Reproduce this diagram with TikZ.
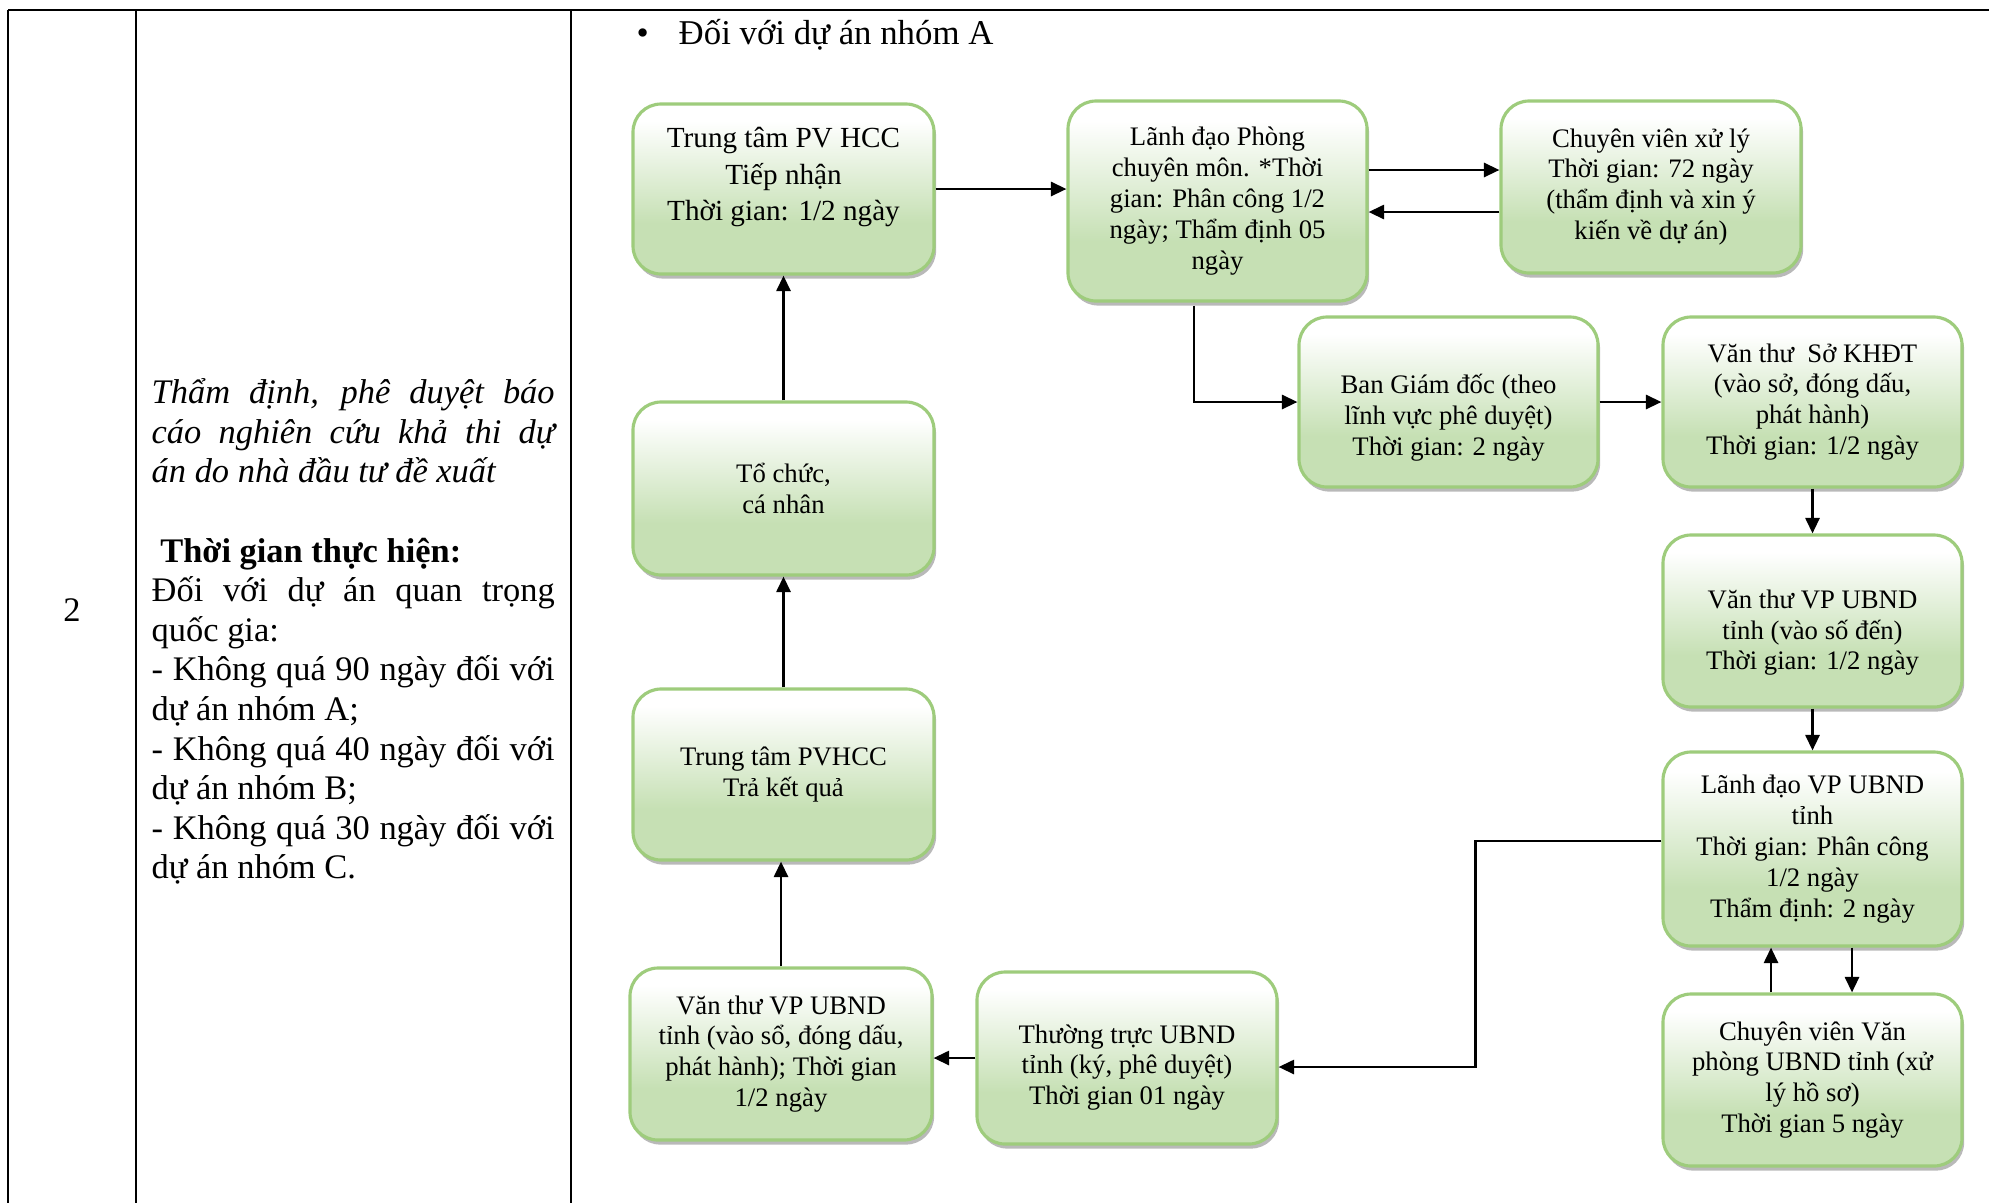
\documentclass[tikz,border=0pt]{standalone}
\usepackage{fontspec}
\setmainfont{Liberation Serif}
\usetikzlibrary{arrows.meta,shadows}
\setlength{\parindent}{0pt}

\definecolor{boxgreen}{RGB}{198,224,180}
\definecolor{boxline}{RGB}{158,204,124}
\pgfdeclareverticalshading{greenfade}{100bp}{color(0bp)=(boxgreen); color(25bp)=(boxgreen);
  color(40bp)=(boxgreen); color(70bp)=(white); color(100bp)=(white)}

\newcommand{\fillline}[1]{\makebox[4.03cm][s]{#1}}

\begin{document}
\begin{tikzpicture}[
  stage/.style={rectangle, rounded corners=0.28cm, draw=boxline, line width=0.9pt,
    shade, shading=greenfade, minimum width=3.0cm, minimum height=1.7cm,
    inner sep=2pt, align=center, font=\fontsize{7.6}{8.8}\selectfont,
    drop shadow={shadow xshift=0.6pt, shadow yshift=-1.3pt, fill=black!50, opacity=0.55}},
  flow/.style={draw, line width=0.72pt, -{Triangle[length=4.4pt, width=4pt]}},
  gridline/.style={draw, line width=0.6pt},
  celltext/.style={inner sep=0pt, text width=4.03cm, align=left,
    font=\fontsize{9.8}{11.27}\selectfont}
]
  \useasboundingbox (0,0) rectangle (19.89,-12.03);

  % Table rules.
  \draw[gridline] (0.08,-0.10) -- (19.89,-0.10);
  \draw[gridline] (0.08,-0.10) -- (0.08,-12.03);
  \draw[gridline] (1.36,-0.10) -- (1.36,-12.03);
  \draw[gridline] (5.71,-0.10) -- (5.71,-12.03);

  % Row number and task.
  \node[font=\fontsize{9.8}{11.27}\selectfont] (rowno) at (0.72,-6.10) {2};
  \node[celltext, anchor=north west] (task) at (1.51,-3.78) {%
    \spaceskip=0pt\xspaceskip=0pt\relax
    \fillline{\itshape Thẩm định, phê duyệt báo}\\
    \fillline{\itshape cáo nghiên cứu khả thi dự}\\
    {\itshape án do nhà đầu tư đề xuất}\\[11.27pt]
    \hspace*{0.25em}\textbf{Thời gian thực hiện:}\\
    \fillline{Đối với dự án quan trọng}\\
    quốc gia:\\
    \fillline{- Không quá 90 ngày đối với}\\
    dự án nhóm A;\\
    \fillline{- Không quá 40 ngày đối với}\\
    dự án nhóm B;\\
    \fillline{- Không quá 30 ngày đối với}\\
    dự án nhóm C.};

  % Heading.
  \node[anchor=west, inner sep=0pt, font=\fontsize{9.9}{11.4}\selectfont] (head)
    at (6.36,-0.35) {\textbullet\hspace{8.5pt}Đối với dự án nhóm A};

  % Top row.
  \node[stage, minimum width=3.01cm, font=\fontsize{8.3}{10.4}\selectfont] (recv)
    at (7.835,-1.89) {Trung tâm PV HCC\\Tiếp nhận\\Thời gian: 1/2 ngày\\[-2pt]\mbox{}};
  \node[stage, minimum width=2.99cm, minimum height=2.0cm] (lead) at (12.175,-2.01)
    {Lãnh đạo Phòng\\chuyên môn. *Thời\\gian: Phân công 1/2\\ngày; Thẩm định 05\\ngày};
  \node[stage, minimum height=1.72cm] (expert) at (16.51,-1.87)
    {Chuyên viên xử lý\\Thời gian: 72 ngày\\(thẩm định và xin ý\\kiến về dự án)};

  % Middle rows.
  \node[stage, minimum width=3.01cm, minimum height=1.73cm] (applicant) at (7.835,-4.885)
    {Tổ chức,\\cá nhân};
  \node[stage, minimum width=2.99cm] (board) at (14.485,-4.02)
    {\rule{0pt}{14.3pt}Ban Giám đốc (theo\\lĩnh vực phê duyệt)\\Thời gian: 2 ngày};
  \node[stage, minimum width=2.99cm] (dpiclerk) at (18.125,-4.02)
    {Văn thư\ \ Sở KHĐT\\(vào sở, đóng dấu,\\phát hành)\\Thời gian: 1/2 ngày};
  \node[stage, minimum width=2.99cm, minimum height=1.72cm] (inclerk) at (18.125,-6.21)
    {\rule{0pt}{11.9pt}Văn thư VP UBND\\tỉnh (vào số đến)\\Thời gian: 1/2 ngày};
  \node[stage, minimum width=3.01cm, minimum height=1.71cm] (handback) at (7.835,-7.745)
    {Trung tâm PVHCC\\Trả kết quả};
  \node[stage, minimum width=2.99cm, minimum height=1.94cm] (offlead) at (18.125,-8.49)
    {Lãnh đạo VP UBND\\tỉnh\\Thời gian: Phân công\\1/2 ngày\\ Thẩm định: 2 ngày};

  % Bottom row.
  \node[stage, minimum width=3.02cm, minimum height=1.72cm] (outclerk) at (7.81,-10.54)
    {Văn thư VP UBND\\tỉnh (vào sổ, đóng dấu,\\phát hành); Thời gian\\1/2 ngày};
  \node[stage, minimum height=1.72cm] (standing) at (11.27,-10.58)
    {\rule{0pt}{10.7pt}Thường trực UBND\\tỉnh (ký, phê duyệt)\\Thời gian 01 ngày};
  \node[stage, minimum width=2.99cm, minimum height=1.72cm] (offexpert) at (18.125,-10.80)
    {Chuyên viên Văn\\phòng UBND tỉnh (xử\\lý hồ sơ)\\Thời gian 5 ngày};

  % Connectors.
  \coordinate (toexp) at ([yshift=0.17cm]expert.west);
  \coordinate (fromexp) at ([yshift=-0.25cm]expert.west);
  \draw[flow] (recv.east) -- (recv.east -| lead.west);
  \draw[flow] (toexp -| lead.east) -- (toexp);
  \draw[flow] (fromexp) -- (fromexp -| lead.east);
  \draw[flow] ([xshift=-0.235cm,yshift=-0.03cm]lead.south) |- (board.west);
  \draw[flow] (board.east) -- (dpiclerk.west);
  \draw[flow] (dpiclerk.south) -- (inclerk.north);
  \draw[flow] (inclerk.south) -- (offlead.north);
  \draw[flow] ([xshift=-0.415cm]offexpert.north) -- ([xshift=-0.415cm]offlead.south);
  \draw[flow] ([xshift=0.395cm]offlead.south) -- ([xshift=0.395cm]offexpert.north);
  \draw[flow] ([yshift=0.08cm]offlead.west) -- ++(-1.86,0) |- ([yshift=-0.09cm]standing.east);
  \draw[flow] (standing.west) -- (standing.west -| outclerk.east);
  \draw[flow] (outclerk.north) -- (outclerk.north |- handback.south);
  \draw[flow] (handback.north) -- (applicant.south);
  \draw[flow] (applicant.north) -- (recv.south);
\end{tikzpicture}
\end{document}
